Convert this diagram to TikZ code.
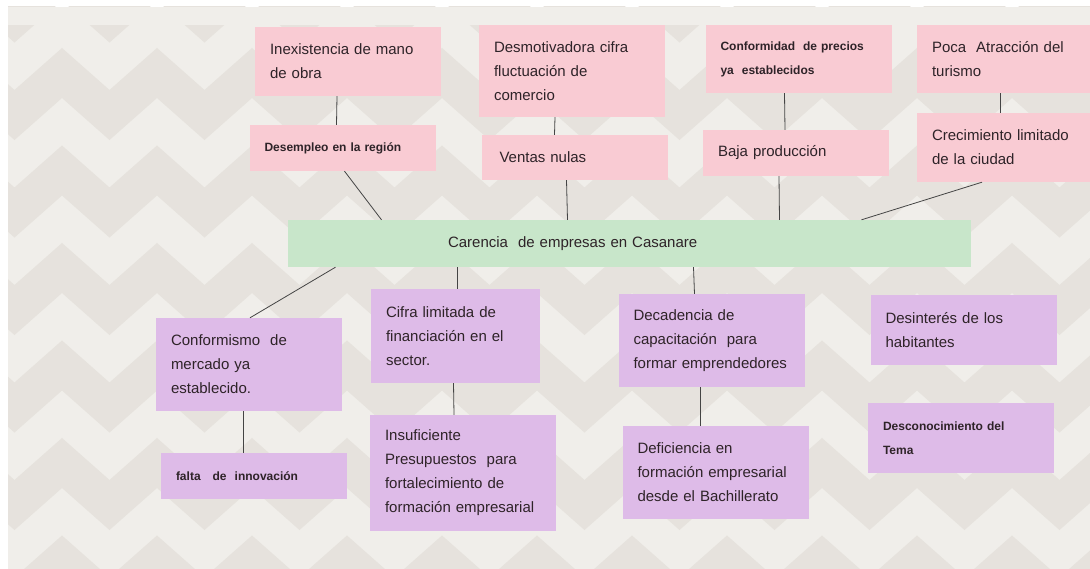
\documentclass[tikz,border=0pt]{standalone}
\usepackage{xcolor}
\usepackage{tikz}
\usepackage{fontspec}
\setmainfont{Liberation Sans}

\definecolor{rosa}{HTML}{F9CBD3}
\definecolor{lila}{HTML}{DEBBE8}
\definecolor{verde}{HTML}{C8E6CA}
\definecolor{fondoclaro}{HTML}{F0EEEA}
\definecolor{fondoscuro}{HTML}{E6E2DD}
\definecolor{tinta}{HTML}{2E2328}
\definecolor{enlace}{HTML}{444444}

\tikzset{
	caja/.style={rectangle, align=left, inner xsep=15pt, inner ysep=0pt, text width=156pt, minimum width=186pt, text=tinta, font=\fontsize{15}{24}\selectfont},
	causa/.style={caja, fill=rosa},
	efecto/.style={caja, fill=lila},
	negrita/.style={font=\bfseries\fontsize{12}{24}\selectfont},
	linea/.style={draw=enlace, line width=0.8pt},
}

\begin{document}
\begin{tikzpicture}[x=1pt, y=-1pt]
			\useasboundingbox (0,0) rectangle (1090,569);
			\clip (0,0) rectangle (1090,569);
			{\fill[white] (0,0) rectangle (1090,569);}
			\begin{scope}
				{\clip (8,7) rectangle (1090,569);}
				{\fill[fondoclaro] (8,7) rectangle (1090,569);}
				\foreach \k in {-1,...,5}
					{\draw[fondoscuro, line width=37.5pt, line join=miter] (-33,{73+97.5*\k}) \foreach \i in {1,...,26}{ -- ({-33+47.5*\i},{73+97.5*\k+42*mod(\i,2)})};}
				{\fill[fondoclaro] (8,7) rectangle (1090,25);}
			\end{scope}
			%{\draw[help lines] (0,0) grid[step=50] (1090,569);}
			% causas
			{\node[causa, minimum height=69pt] (inex) at (348,61.5) {Inexistencia de mano\\de obra};}
			{\node[causa, negrita, minimum height=46pt] (desem) at (342.5,148) {Desempleo en la región};}
			{\node[causa, minimum height=92pt] (desmo) at (572,71) {Desmotivadora cifra\\fluctuación de\\comercio};}
			{\node[causa, inner xsep=18pt, text width=150pt, minimum height=45pt] (ventas) at (574.5,157.5) {Ventas nulas};}
			{\node[causa, negrita, minimum height=68pt] (conf) at (798.5,59) {Conformidad\ \ de precios\\ya\ \ establecidos};}
			{\node[causa, minimum height=46pt] (baja) at (796,153) {Baja producción};}
			{\node[causa, minimum height=68pt] (poca) at (1010,59) {Poca\ \ Atracción del\\turismo};}
			{\node[causa, minimum height=69pt] (crec) at (1010,147.5) {Crecimiento limitado\\de la ciudad};}
			% problema
			{\node[caja, fill=verde, minimum width=683pt, text width=363pt, inner xsep=160pt, minimum height=47pt] (green) at (629.5,243.5) {Carencia\ \ de empresas en Casanare};}
			% efectos
			{\node[efecto, minimum height=93pt] (confm) at (249,364.5) {Conformismo\ \ de\\mercado ya\\establecido.};}
			{\node[efecto, negrita, minimum height=46pt] (falta) at (254,476) {falta\ \ \ de\ \ innovación};}
			{\node[efecto, text width=139pt, minimum width=169pt, minimum height=94pt] (cifra) at (455.5,336) {Cifra limitada de\\financiación en el\\sector.};}
			{\node[efecto, minimum height=116pt] (insuf) at (463,473) {Insuficiente\\Presupuestos\ \ para\\fortalecimiento de\\formación empresarial};}
			{\node[efecto, minimum height=93pt] (decad) at (711.5,340.5) {Decadencia de\\capacitación\ \ para\\formar emprendedores};}
			{\node[efecto, minimum height=93pt] (defic) at (715.5,472.5) {Deficiencia en\\formación empresarial\\desde el Bachillerato};}
			{\node[efecto, minimum height=70pt] (desint) at (963.5,330) {Desinterés de los\\habitantes};}
			{\node[efecto, negrita, minimum height=70pt] (descon) at (961,438) {Desconocimiento del\\Tema};}
			% enlaces
			{\draw[linea] ([xshift=-11pt]inex.south) -- ([xshift=-6pt]desem.north);}
			{\draw[linea] ([xshift=2pt]desem.south) -- ([xshift=-248pt]green.north);}
			{\draw[linea] ([xshift=-17pt]desmo.south) -- ([xshift=-20pt]ventas.north);}
			{\draw[linea] ([xshift=-8pt]ventas.south) -- ([xshift=-62pt]green.north);}
			{\draw[linea] ([xshift=-14pt]conf.south) -- ([xshift=-11pt]baja.north);}
			{\draw[linea] ([xshift=-17pt]baja.south) -- ([xshift=150pt]green.north);}
			{\draw[linea] ([xshift=-10pt]poca.south) -- ([xshift=-10pt]crec.north);}
			{\draw[linea] ([xshift=-28pt]crec.south) -- ([xshift=232pt]green.north);}
			{\draw[linea] ([xshift=-294pt]green.south) -- ([xshift=1pt]confm.north);}
			{\draw[linea] ([xshift=-172pt]green.south) -- ([xshift=2pt]cifra.north);}
			{\draw[linea] ([xshift=-2pt]cifra.south) -- ([xshift=-9pt]insuf.north);}
			{\draw[linea] ([xshift=64pt]green.south) -- ([xshift=-17pt]decad.north);}
			{\draw[linea] ([xshift=-11pt]decad.south) -- ([xshift=-15pt]defic.north);}
			{\draw[linea] ([xshift=-6pt]confm.south) -- ([xshift=-11pt]falta.north);}
		\end{tikzpicture}
\end{document}
